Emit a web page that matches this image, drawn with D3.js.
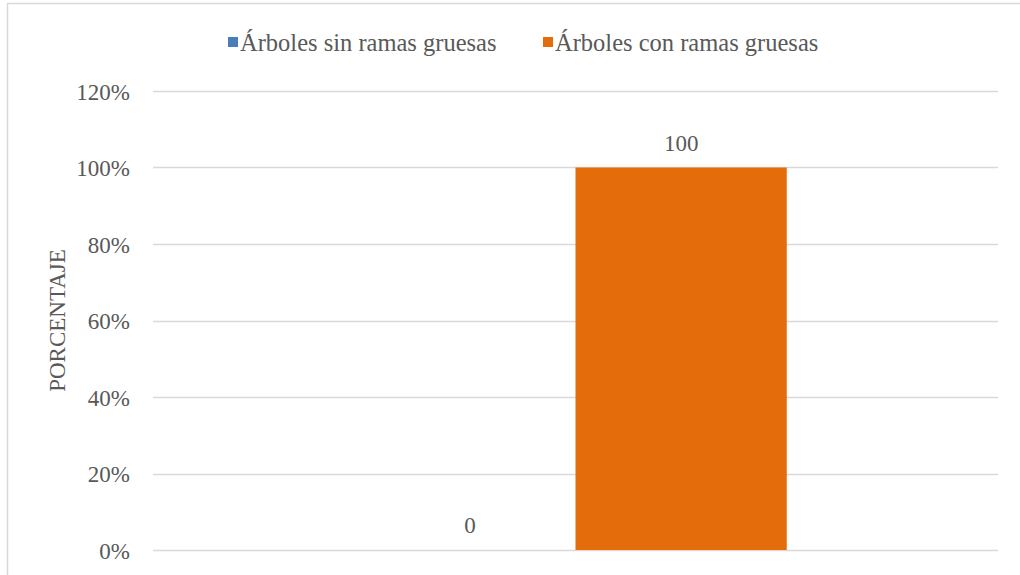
<!DOCTYPE html>
<html>
<head>
<meta charset="utf-8">
<script src="https://cdn.jsdelivr.net/npm/d3@7"></script>
<style>
  body { margin: 0; background: #fff; }
  svg text { font-family: "Liberation Serif", serif; }
</style>
</head>
<body>
<script>
// data
var categories = ["Árboles"];
var seriesNames = ["Árboles sin ramas gruesas", "Árboles con ramas gruesas"];
var seriesValues = [0, 100];
var seriesColors = ["#4a7ebb", "#e46c0a"];
var yTicks = [0, 20, 40, 60, 80, 100, 120];

var FONT = "Liberation Serif, serif";
var TXT = "#595959";

var W = 1020, H = 575;
var margin = { top: 91, right: 22, bottom: 25, left: 153 };
var width = W - margin.left - margin.right;
var height = H - margin.top - margin.bottom;

var svg = d3.select("body").append("svg")
    .attr("width", W)
    .attr("height", H)
    .attr("font-family", FONT);

// outer border of the chart area
svg.append("rect")
    .attr("x", 7.5).attr("y", 3.5)
    .attr("width", W).attr("height", H)
    .attr("fill", "none")
    .attr("stroke", "#d9d9d9")
    .attr("stroke-width", 1.5);

var g = svg.append("g")
    .attr("transform", "translate(" + margin.left + "," + margin.top + ")");

var y = d3.scaleLinear().domain([0, 120]).range([height, 0]);

var x0 = d3.scaleBand()
    .domain(categories)
    .range([0, width])
    .paddingInner(0)
    .paddingOuter(0.5);

var x1 = d3.scaleBand()
    .domain(seriesNames)
    .range([0, x0.bandwidth()])
    .padding(0);

// gridlines
g.append("g")
    .selectAll("line")
    .data(yTicks)
    .enter().append("line")
    .attr("x1", 0).attr("x2", width)
    .attr("y1", function (d) { return Math.round(y(d)) + 0.5; })
    .attr("y2", function (d) { return Math.round(y(d)) + 0.5; })
    .attr("stroke", "#d9d9d9")
    .attr("stroke-width", 1.5);

// y axis labels
var yAxis = d3.axisLeft(y)
    .tickValues(yTicks)
    .tickFormat(function (d) { return d + "%"; })
    .tickSize(0)
    .tickPadding(23);

var ya = g.append("g").call(yAxis)
    .attr("font-family", FONT)
    .attr("font-size", 23);
ya.select(".domain").remove();
ya.selectAll("text")
    .attr("dy", "0.35em")
    .attr("fill", TXT);

// bars
var groups = g.selectAll(".cat")
    .data(categories)
    .enter().append("g")
    .attr("transform", function (d) { return "translate(" + x0(d) + ",0)"; });

groups.selectAll("rect")
    .data(seriesNames.map(function (s, i) { return { name: s, value: seriesValues[i], color: seriesColors[i] }; }))
    .enter().append("rect")
    .attr("x", function (d) { return x1(d.name); })
    .attr("y", function (d) { return y(d.value); })
    .attr("width", x1.bandwidth())
    .attr("height", function (d) { return height - y(d.value); })
    .attr("fill", function (d) { return d.color; });

// value labels
groups.selectAll(".lbl")
    .data(seriesNames.map(function (s, i) { return { name: s, value: seriesValues[i] }; }))
    .enter().append("text")
    .attr("class", "lbl")
    .attr("x", function (d) { return x1(d.name) + x1.bandwidth() / 2; })
    .attr("y", function (d) { return y(d.value) - 17; })
    .attr("text-anchor", "middle")
    .attr("font-size", 23)
    .attr("fill", TXT)
    .text(function (d) { return d.value; });

// y axis title
svg.append("text")
    .attr("transform", "translate(65," + (margin.top + height / 2) + ") rotate(-90)")
    .attr("text-anchor", "middle")
    .attr("font-size", 23)
    .attr("fill", TXT)
    .text("PORCENTAJE");

// legend
var legendX = [228, 543];
var legend = svg.selectAll(".legend")
    .data(seriesNames)
    .enter().append("g")
    .attr("transform", function (d, i) { return "translate(" + legendX[i] + ",42)"; });

legend.append("rect")
    .attr("x", 0).attr("y", -5)
    .attr("width", 10).attr("height", 10)
    .attr("fill", function (d, i) { return seriesColors[i]; });

legend.append("text")
    .attr("x", 12)
    .attr("dy", "0.35em")
    .attr("font-size", 24.5)
    .attr("fill", TXT)
    .text(function (d) { return d; });
</script>
</body>
</html>
